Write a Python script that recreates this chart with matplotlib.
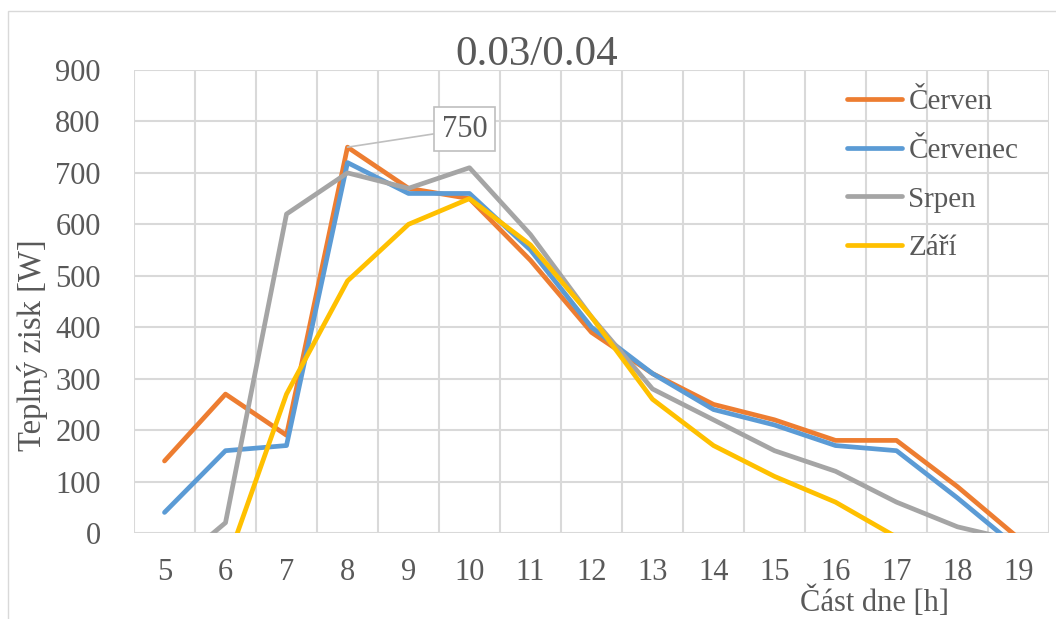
import matplotlib
matplotlib.use("Agg")
import matplotlib.pyplot as plt
from matplotlib.patches import Rectangle

# Hours of the day (category axis)
hours = [5, 6, 7, 8, 9, 10, 11, 12, 13, 14, 15, 16, 17, 18, 19]

# Heat gain per month [W]
cerven = [140, 270, 190, 750, 670, 650, 530, 390, 310, 250, 220, 180, 180, 90, -10]
cervenec = [40, 160, 170, 720, 660, 660, 550, 400, 310, 240, 210, 170, 160, 68, -30]
srpen = [-80, 20, 620, 700, 670, 710, 580, 420, 280, 220, 160, 120, 60, 12, -16]
zari = [-200, -65, 270, 490, 600, 650, 560, 420, 260, 170, 110, 60, -8, -60, -100]

series_names = ["Červen", "Červenec", "Srpen", "Září"]
series_values = [cerven, cervenec, srpen, zari]
series_colors = ["#ED7D31", "#5B9BD5", "#A5A5A5", "#FFC000"]

title = "0.03/0.04"
x_label = "Část dne [h]"
y_label = "Teplný zisk [W]"

text_color = "#595959"
grid_color = "#D9D9D9"
plt.rcParams["font.family"] = ["Liberation Serif", "DejaVu Serif"]

fig = plt.figure(figsize=(10.56, 6.19), dpi=100)
ax = fig.add_axes([134 / 1056, 1 - 533 / 619, (1049 - 134) / 1056, (533 - 70) / 619])

# light outer frame of the chart
fig.patches.append(Rectangle((8 / 1056, -0.05), 1.2, 1 - 11 / 619 + 0.05,
                             transform=fig.transFigure, fill=False,
                             edgecolor="#D9D9D9", linewidth=1.0))

pos = list(range(len(hours)))
for name, vals, col in zip(series_names, series_values, series_colors):
    ax.plot(pos, vals, color=col, linewidth=3.4, label=name,
            solid_capstyle="round", solid_joinstyle="round", zorder=3)

ax.set_xlim(-0.5, len(hours) - 0.5)
ax.set_ylim(0, 900)
ax.set_yticks(range(0, 901, 100))
ax.set_xticks(pos)
ax.set_xticklabels([str(h) for h in hours])
ax.set_xticks([p - 0.5 for p in pos] + [len(hours) - 0.5], minor=True)

ax.grid(True, which="major", axis="y", color=grid_color, linewidth=1.5, zorder=0)
ax.grid(True, which="minor", axis="x", color=grid_color, linewidth=1.5, zorder=0)
for s in ax.spines.values():
    s.set_visible(False)
ax.tick_params(which="both", length=0)
ax.tick_params(axis="y", labelsize=22, labelcolor=text_color, pad=24)
ax.tick_params(axis="x", labelsize=22, labelcolor=text_color, pad=18)

fig.text(537 / 1056, 1 - 55 / 619, title, ha="center", va="center",
         fontsize=31, color=text_color)
fig.text(874 / 1056, 1 - 602 / 619, x_label, ha="center", va="center",
         fontsize=22, color=text_color)
fig.text(33 / 1056, 1 - 345 / 619, y_label, ha="center", va="center",
         rotation=90, fontsize=23.5, color=text_color)

# data label for the peak value
peak_idx = cerven.index(max(cerven))
ax.annotate(str(cerven[peak_idx]), xy=(pos[peak_idx], cerven[peak_idx]),
            xytext=(117, 18), textcoords="offset pixels",
            ha="center", va="center", fontsize=22, color=text_color,
            bbox=dict(boxstyle="square,pad=0.25", fc="white", ec="#BFBFBF", lw=1.2),
            arrowprops=dict(arrowstyle="-", color="#BFBFBF", lw=1.2,
                            shrinkA=0, shrinkB=0),
            zorder=5)

leg = ax.legend(loc="upper left", bbox_to_anchor=(847 / 1056, 1 - 89 / 619),
                bbox_transform=fig.transFigure, frameon=False, fontsize=21,
                labelcolor=text_color, handlelength=1.9, handletextpad=0.2,
                labelspacing=0.76, borderaxespad=0, borderpad=0)

fig.savefig("out.png", dpi=100, facecolor="white")
